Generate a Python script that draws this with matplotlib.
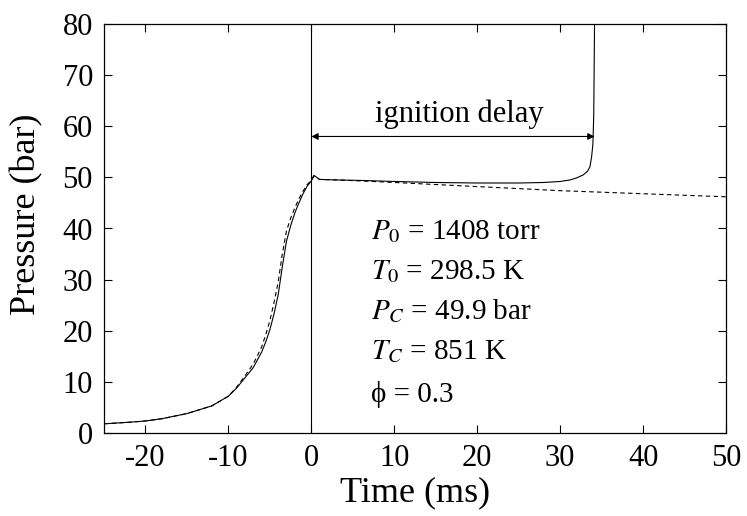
import matplotlib
matplotlib.use('Agg')
from matplotlib import pyplot as plt

plt.rcParams['font.family'] = ['Liberation Serif', 'DejaVu Serif']
plt.rcParams['mathtext.fontset'] = 'stix'
plt.rcParams['axes.unicode_minus'] = False

# reactive mixture (solid)
t_react = [-25, -22, -20, -18, -15, -12, -10, -9, -8, -7, -6, -5.5, -5, -4.5, -4, -3.5,
           -3, -2.5, -2, -1.5, -1, -0.5, 0, 0.3, 1, 3, 6, 10, 15, 20, 25, 28, 30, 31.2,
           32, 32.8, 33.3, 33.6, 33.8, 33.95, 34.05, 34.15]
p_react = [1.8, 2.1, 2.35, 2.8, 3.8, 5.3, 7.2, 8.8, 10.8, 12.8, 15.8, 17.8, 20.2, 23.3,
           27.0, 32.5, 37.5, 40.5, 43.0, 45.0, 46.8, 48.3, 49.3, 50.4, 49.6, 49.5, 49.4,
           49.2, 49.0, 48.9, 48.9, 49.0, 49.2, 49.5, 49.9, 50.5, 51.2, 52.1, 54.1, 56.5,
           62.0, 80.0]

# non-reactive mixture (dashed)
t_inert = [-25, -22, -20, -18, -15, -12, -10, -9, -8, -7, -6, -5.5, -5, -4.5, -4, -3.5,
           -3, -2.5, -2, -1.5, -1, -0.5, 0, 0.3, 1, 3, 6, 10, 15, 20, 25, 30, 35, 40, 45, 50]
p_inert = [1.8, 2.1, 2.35, 2.8, 3.8, 5.3, 7.2, 9.0, 11.2, 13.5, 16.8, 19.2, 22.0, 25.5,
           29.5, 35.0, 39.5, 42.0, 44.0, 45.8, 47.3, 48.6, 49.4, 50.2, 49.6, 49.5, 49.3,
           49.0, 48.6, 48.2, 47.8, 47.4, 47.1, 46.8, 46.5, 46.2]

delay_end = 34.15
params = [r'$P_{\mathit{0}}$ = 1408 torr', r'$T_{\mathit{0}}$ = 298.5 K',
          r'$P_{C}$ = 49.9 bar', r'$T_{C}$ = 851 K', 'ϕ = 0.3']
param_y = [39.4, 31.6, 23.7, 15.9, 7.6]

fig = plt.figure(figsize=(7.47, 5.16), dpi=100)
ax = fig.add_axes([104 / 747, 1 - 433 / 516, 622 / 747, 409 / 516])

ax.plot(t_react, p_react, color='black', lw=0.8)
ax.plot(t_inert, p_inert, color='black', lw=0.8, ls=(0, (4, 3)))
ax.axvline(0, color='black', lw=0.8)

ax.annotate('', xy=(0, 58), xytext=(delay_end, 58),
            arrowprops=dict(arrowstyle='<|-|>', color='black', lw=0.8,
                            mutation_scale=10, shrinkA=0, shrinkB=0))
ax.text(17.9, 62.3, 'ignition delay', fontsize=22, ha='center', va='center')

for label, y in zip(params, param_y):
    ax.text(7.2, y, label, fontsize=21, ha='left', va='center')

ax.set_xlim(-25, 50)
ax.set_ylim(0, 80)
ax.set_xticks(range(-20, 51, 10))
ax.set_yticks(range(0, 81, 10))
ax.tick_params(direction='in', length=6, width=0.8, top=True, right=True,
               labelsize=22, pad=8)
for s in ax.spines.values():
    s.set_linewidth(0.9)

ax.set_xlabel('Time (ms)', fontsize=26, labelpad=2)
ax.set_ylabel('Pressure (bar)', fontsize=26)
ax.yaxis.set_label_coords(-0.098, 0.534)

fig.savefig('out.png', dpi=100)
